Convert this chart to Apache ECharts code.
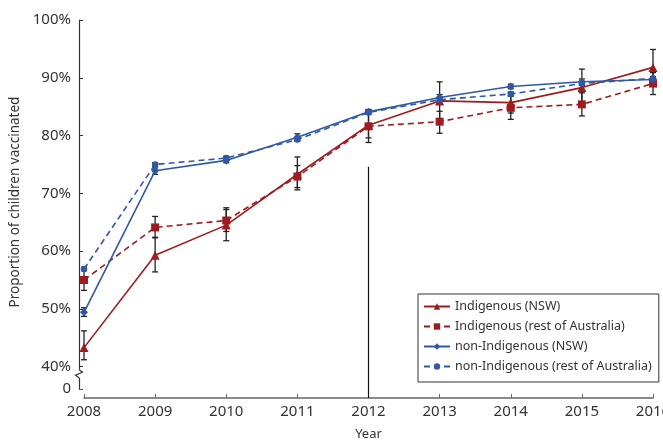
<!DOCTYPE html>
<html><head><meta charset="utf-8">
<script src="https://cdn.jsdelivr.net/npm/echarts@6/dist/echarts.min.js"></script>
<style>html,body{margin:0;padding:0;background:#fff}#c{width:663px;height:440px}</style>
</head><body><div id="c"></div>
<script>
const years = ['2008','2009','2010','2011','2012','2013','2014','2015','2016'];
const indNSW      = [43.3, 59.3, 64.5, 73.3, 81.8, 86.0, 85.7, 88.3, 91.8];
const indNSWLow   = [41.2, 56.4, 61.8, 70.6, 79.6, 82.8, 83.9, 85.1, 88.8];
const indNSWHigh  = [46.2, 62.3, 67.2, 76.3, 84.2, 89.3, 87.5, 91.5, 94.9];
const indRest     = [55.0, 64.1, 65.3, 72.9, 81.6, 82.4, 84.8, 85.4, 89.0];
const indRestLow  = [53.2, 62.4, 63.4, 71.0, 78.8, 80.4, 82.8, 83.4, 87.1];
const indRestHigh = [56.8, 66.0, 67.5, 74.8, 84.5, 84.2, 86.8, 87.4, 90.9];
const nonNSW      = [49.4, 73.9, 75.7, 79.7, 84.1, 86.6, 88.5, 89.3, 89.7];
const nonNSWLow   = [48.7, 73.3, 75.3, 79.2, 83.7, 86.1, 88.1, 88.8, 89.2];
const nonNSWHigh  = [50.2, 74.4, 76.1, 80.3, 84.5, 87.1, 88.9, 89.8, 90.2];
const nonRest     = [56.9, 75.0, 76.1, 79.3, 84.0, 86.2, 87.2, 89.0, 89.9];
const nonRestLow  = [56.6, 74.7, 75.8, 79.0, 83.7, 85.9, 86.9, 88.7, 89.6];
const nonRestHigh = [57.2, 75.3, 76.4, 79.6, 84.3, 86.5, 87.5, 89.3, 90.2];
const yTicks = [40, 50, 60, 70, 80, 90, 100];
const yZero = 36.14;      // where the "0" label sits below the axis break
const yMin = 34.58;
const refLineYear = '2012';
const refLineTop = 74.6;
const names = ['Indigenous (NSW)', 'Indigenous (rest of Australia)', 'non-Indigenous (NSW)', 'non-Indigenous (rest of Australia)'];

const RED = '#9e1b20', BLUE = '#2f58a5';
const FONT = 'Noto Sans';
const chart = echarts.init(document.getElementById('c'));

function errSeries(low, high) {
  return {
    type: 'custom', z: 1, silent: true,
    data: low.map((l, i) => [i, l, high[i]]),
    renderItem: function (params, api) {
      const x = api.value(0);
      const p1 = api.coord([x, api.value(1)]);
      const p2 = api.coord([x, api.value(2)]);
      const w = 3;
      const st = { stroke: '#222', lineWidth: 1.3 };
      return { type: 'group', children: [
        { type: 'line', shape: { x1: p1[0], y1: p1[1], x2: p2[0], y2: p2[1] }, style: st },
        { type: 'line', shape: { x1: p1[0]-w, y1: p1[1], x2: p1[0]+w, y2: p1[1] }, style: st },
        { type: 'line', shape: { x1: p2[0]-w, y1: p2[1], x2: p2[0]+w, y2: p2[1] }, style: st }
      ]};
    }
  };
}
function lineSeries(name, data, color, dashed, symbol, size) {
  return {
    name, type: 'line', data, z: 3,
    symbol, symbolSize: size, showSymbol: true,
    itemStyle: { color },
    lineStyle: { color, width: 1.6, type: dashed ? [6, 4] : 'solid' },
    emphasis: { disabled: true }
  };
}
const yLabelVals = [yZero].concat(yTicks);
const s1 = lineSeries(names[0], indNSW, RED, false, 'triangle', 9);
s1.markLine = {
  silent: true, symbol: 'none', label: { show: false },
  lineStyle: { color: '#111', width: 1.2, type: 'solid' },
  data: [[{ coord: [refLineYear, refLineTop] }, { coord: [refLineYear, yMin] }]]
};
chart.setOption({
  animation: false,
  textStyle: { fontFamily: FONT },
  grid: { left: 84, right: 10, top: 20, bottom: 42, outerBoundsMode: 'none', containLabel: false },
  legend: {
    data: names, orient: 'vertical', left: 418, top: 294,
    itemWidth: 26, itemHeight: 8, itemGap: 5,
    padding: [5, 7, 8, 5],
    borderColor: '#333', borderWidth: 1, backgroundColor: '#fff',
    textStyle: { fontFamily: FONT, fontSize: 12.5, color: '#333', lineHeight: 15 }
  },
  xAxis: {
    type: 'category', data: years, boundaryGap: false,
    name: 'Year', nameLocation: 'middle', nameGap: 30,
    nameTextStyle: { fontFamily: FONT, fontSize: 13, color: '#333' },
    axisLine: { lineStyle: { color: '#666', width: 1.5 } },
    axisTick: { inside: true, length: 4, lineStyle: { color: '#666' } },
    axisLabel: { fontFamily: FONT, fontSize: 15, color: '#333', margin: 6 },
    splitLine: { show: false }
  },
  yAxis: {
    type: 'value', min: yMin, max: 100, offset: 5,
    name: 'Proportion of children vaccinated', nameLocation: 'middle', nameGap: 54,
    nameRotate: 90,
    nameTextStyle: { fontFamily: FONT, fontSize: 13.5, color: '#333', padding: [0, 0, 0, 14] },
    axisLine: { show: true, lineStyle: { color: '#333', width: 1.2 } },
    axisTick: { show: true, inside: true, length: 4, customValues: yLabelVals, lineStyle: { color: '#333' } },
    axisLabel: { fontFamily: FONT, fontSize: 15, color: '#333', margin: 8, customValues: yLabelVals,
      formatter: v => (v < 39 ? '0' : Math.round(v) + '%') },
    splitLine: { show: false }
  },
  series: [
    errSeries(indNSWLow, indNSWHigh),
    errSeries(indRestLow, indRestHigh),
    errSeries(nonNSWLow, nonNSWHigh),
    errSeries(nonRestLow, nonRestHigh),
    s1,
    lineSeries(names[1], indRest, RED, true, 'rect', 8),
    lineSeries(names[2], nonNSW, BLUE, false, 'diamond', 8),
    lineSeries(names[3], nonRest, BLUE, true, 'circle', 6.5)
  ]
});
// axis decorations: hide the y axis below the "0" tick and draw the break glyph
const ax = chart.convertToPixel({ xAxisIndex: 0 }, years[0]) - 5;
const yZ = chart.convertToPixel({ yAxisIndex: 0 }, yZero);
const yB = chart.convertToPixel({ yAxisIndex: 0 }, yMin);
const y40 = chart.convertToPixel({ yAxisIndex: 0 }, 40);
const b0 = y40 + 3, b1 = y40 + 11;
chart.setOption({
  graphic: [
    { type: 'rect', silent: true, z: 100, shape: { x: ax - 3, y: yZ + 0.8, width: 6, height: yB - yZ + 2 }, style: { fill: '#fff' } },
    { type: 'rect', silent: true, z: 100, shape: { x: ax - 3, y: b0, width: 6, height: b1 - b0 }, style: { fill: '#fff' } },
    { type: 'polyline', silent: true, z: 101, shape: { points: [[ax, b0], [ax + 3.5, b0 + 2.5], [ax - 3.5, b0 + 5.5], [ax, b1]] },
      style: { stroke: '#333', lineWidth: 1.2, fill: null } }
  ]
});
</script></body></html>
